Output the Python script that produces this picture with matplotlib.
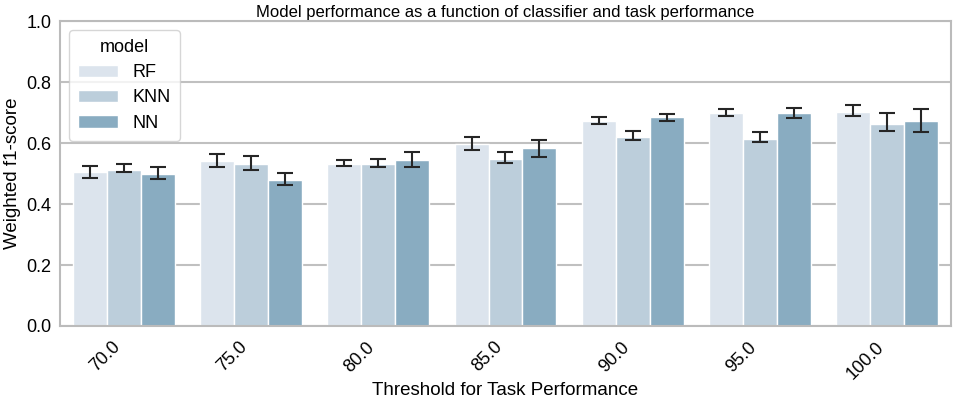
import numpy as np
import matplotlib.pyplot as plt

plt.rcParams['font.family'] = ['Liberation Sans', 'DejaVu Sans']

thresholds = ["70.0", "75.0", "80.0", "85.0", "90.0", "95.0", "100.0"]
models = ["RF", "KNN", "NN"]

rf = [0.505, 0.542, 0.531, 0.597, 0.673, 0.699, 0.703]
rf_lo = [0.484, 0.522, 0.525, 0.577, 0.661, 0.690, 0.689]
rf_hi = [0.525, 0.563, 0.546, 0.621, 0.687, 0.712, 0.724]

knn = [0.512, 0.531, 0.531, 0.549, 0.620, 0.615, 0.663]
knn_lo = [0.504, 0.512, 0.522, 0.534, 0.610, 0.602, 0.638]
knn_hi = [0.531, 0.558, 0.549, 0.570, 0.639, 0.637, 0.698]

nn = [0.499, 0.479, 0.543, 0.584, 0.684, 0.699, 0.673]
nn_lo = [0.482, 0.461, 0.521, 0.555, 0.671, 0.682, 0.637]
nn_hi = [0.522, 0.503, 0.570, 0.610, 0.697, 0.716, 0.711]

colors = ['#dce4ed', '#bccedb', '#89acc1']

fig = plt.figure(figsize=(9.57, 3.99), dpi=100)
ax = fig.add_axes([0.0627, 0.183, 0.931, 0.764])

x = np.arange(len(thresholds))
w = 0.8 / 3
series = [(rf, rf_lo, rf_hi), (knn, knn_lo, knn_hi), (nn, nn_lo, nn_hi)]
for i, (vals, lo, hi) in enumerate(series):
    xs = x + (i - 1) * w
    vals = np.array(vals)
    ax.bar(xs, vals, width=w, color=colors[i], edgecolor='white', linewidth=1,
           label=models[i], zorder=2)
    err = [vals - np.array(lo), np.array(hi) - vals]
    ax.errorbar(xs, vals, yerr=err, fmt='none', ecolor='#262626', elinewidth=1.5,
                capsize=5.5, capthick=1.5, zorder=3)

ax.set_xlim(-0.5, len(thresholds) - 0.5)
ax.set_ylim(0, 1.0)
ax.set_yticks([0, 0.2, 0.4, 0.6, 0.8, 1.0])
ax.set_xticks(x)
ax.set_xticklabels(thresholds, rotation=45, ha='right')
ax.tick_params(axis='both', length=0, labelsize=13, pad=6)
ax.tick_params(axis='x', pad=9)
ax.yaxis.grid(True, color='#c0c0c0', linewidth=1.5, zorder=0)
ax.set_axisbelow(True)
for s in ax.spines.values():
    s.set_color('#bbbbbb')
    s.set_linewidth(1.5)

ax.set_xlabel("Threshold for Task Performance", fontsize=13.5)
ax.xaxis.set_label_coords(0.5, -0.185)
ax.set_ylabel("Weighted f1-score", fontsize=13.5, labelpad=4)
ax.set_title("Model performance as a function of classifier and task performance",
             fontsize=12, pad=3)

leg = ax.legend(title="model", loc="upper left", fontsize=13, title_fontsize=13,
                frameon=True, borderpad=0.5, handlelength=2.2, labelspacing=0.45)
leg.get_frame().set_edgecolor('#cccccc')

fig.savefig("out.png", dpi=100)
